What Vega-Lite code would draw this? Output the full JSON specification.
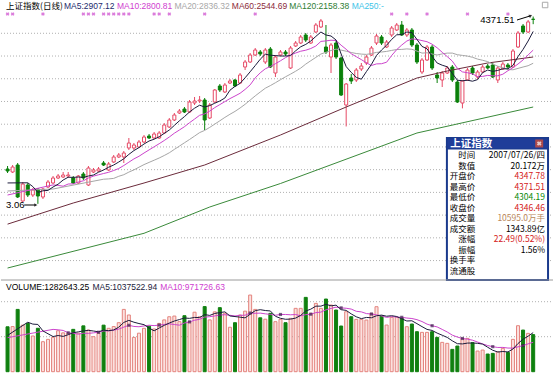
{
"$schema": "https://vega.github.io/schema/vega-lite/v6.json",
"padding": 0,
"background": "white",
"bounds": "flush",
"spacing": 0,
"config": {"view": {"stroke": null}},
"datasets": {
"k": [
{"i":0,"o":3029.8,"h":3056.2,"l":2994.6,"c":3012.2,"v":1282643},
{"i":1,"o":3003.4,"h":3065,"l":2994.6,"c":3047.4,"v":1290000},
{"i":2,"o":3065,"h":3082.6,"l":2774.6,"c":2783.4,"v":1780000},
{"i":3,"o":2748.2,"h":2915.4,"l":2739.4,"c":2897.8,"v":1330000},
{"i":4,"o":2889,"h":2906.6,"l":2783.4,"c":2801,"v":1380000},
{"i":5,"o":2801,"h":2862.6,"l":2783.4,"c":2845,"v":1020000},
{"i":6,"o":2853.8,"h":2862.6,"l":2723.06,"c":2792.2,"v":1240000},
{"i":7,"o":2783.4,"h":2862.6,"l":2765.8,"c":2853.8,"v":857000},
{"i":8,"o":2871.4,"h":2933,"l":2862.6,"c":2915.4,"v":924000},
{"i":9,"o":2906.6,"h":2968.2,"l":2897.8,"c":2950.6,"v":981000},
{"i":10,"o":2950.6,"h":2985.8,"l":2941.8,"c":2968.2,"v":1170000},
{"i":11,"o":2959.4,"h":3003.4,"l":2950.6,"c":2977,"v":1110000},
{"i":12,"o":2968.2,"h":3003.4,"l":2950.6,"c":2977,"v":1100000},
{"i":13,"o":2950.6,"h":2968.2,"l":2897.8,"c":2906.6,"v":1210000},
{"i":14,"o":2906.6,"h":2977,"l":2897.8,"c":2968.2,"v":1100000},
{"i":15,"o":2985.8,"h":3003.4,"l":2933,"c":2950.6,"v":1310000},
{"i":16,"o":2889,"h":3056.2,"l":2880.2,"c":3038.6,"v":1190000},
{"i":17,"o":3003.4,"h":3038.6,"l":2994.6,"c":3021,"v":1000000},
{"i":18,"o":3012.2,"h":3047.4,"l":3003.4,"c":3029.8,"v":1100000},
{"i":19,"o":3082.6,"h":3100.2,"l":3056.2,"c":3065,"v":1330000},
{"i":20,"o":3021,"h":3091.4,"l":3012.2,"c":3073.8,"v":1240000},
{"i":21,"o":3091.4,"h":3153,"l":3082.6,"c":3135.4,"v":1290000},
{"i":22,"o":3135.4,"h":3170.6,"l":3126.6,"c":3153,"v":1400000},
{"i":23,"o":3135.4,"h":3188.2,"l":3082.6,"c":3170.6,"v":1780000},
{"i":24,"o":3214.6,"h":3302.6,"l":3197,"c":3258.6,"v":1620000},
{"i":25,"o":3214.6,"h":3258.6,"l":3197,"c":3241,"v":980000},
{"i":26,"o":3223.4,"h":3285,"l":3214.6,"c":3267.4,"v":1100000},
{"i":27,"o":3267.4,"h":3329,"l":3258.6,"c":3311.4,"v":1240000},
{"i":28,"o":3320.2,"h":3337.8,"l":3293.8,"c":3302.6,"v":1300000},
{"i":29,"o":3302.6,"h":3355.4,"l":3293.8,"c":3337.8,"v":1220000},
{"i":30,"o":3302.6,"h":3364.2,"l":3293.8,"c":3346.6,"v":1380000},
{"i":31,"o":3346.6,"h":3434.6,"l":3337.8,"c":3417,"v":1480000},
{"i":32,"o":3399.4,"h":3478.6,"l":3390.6,"c":3461,"v":1570000},
{"i":33,"o":3461,"h":3522.6,"l":3452.2,"c":3505,"v":1590000},
{"i":34,"o":3522.6,"h":3557.8,"l":3513.8,"c":3540.2,"v":1430000},
{"i":35,"o":3557.8,"h":3575.4,"l":3522.6,"c":3531.4,"v":1600000},
{"i":36,"o":3531.4,"h":3637,"l":3522.6,"c":3619.4,"v":1430000},
{"i":37,"o":3610.6,"h":3663.4,"l":3593,"c":3628.2,"v":1700000},
{"i":38,"o":3628.2,"h":3672.2,"l":3610.6,"c":3637,"v":1570000},
{"i":39,"o":3637,"h":3654.6,"l":3373,"c":3461,"v":1860000},
{"i":40,"o":3478.6,"h":3610.6,"l":3469.8,"c":3593,"v":1480000},
{"i":41,"o":3619.4,"h":3733.8,"l":3610.6,"c":3725,"v":1710000},
{"i":42,"o":3760.2,"h":3777.8,"l":3707.4,"c":3725,"v":1830000},
{"i":43,"o":3707.4,"h":3786.6,"l":3698.6,"c":3769,"v":1670000},
{"i":44,"o":3786.6,"h":3821.8,"l":3777.8,"c":3804.2,"v":1270000},
{"i":45,"o":3813,"h":3821.8,"l":3751.4,"c":3760.2,"v":1400000},
{"i":46,"o":3786.6,"h":3874.6,"l":3777.8,"c":3857,"v":1620000},
{"i":47,"o":3927.4,"h":3989,"l":3901,"c":3971.4,"v":1730000},
{"i":48,"o":3971.4,"h":4050.6,"l":3962.6,"c":4033,"v":2190000},
{"i":49,"o":4033,"h":4094.6,"l":4024.2,"c":4077,"v":1780000},
{"i":50,"o":4059.4,"h":4077,"l":4024.2,"c":4041.8,"v":1540000},
{"i":51,"o":3971.4,"h":4094.6,"l":3953.8,"c":4077,"v":1500000},
{"i":52,"o":4085.8,"h":4103.4,"l":3918.6,"c":3927.4,"v":1667000},
{"i":53,"o":3874.6,"h":4033,"l":3839.4,"c":4015.4,"v":1429000},
{"i":54,"o":4033,"h":4077,"l":4024.2,"c":4059.4,"v":1495000},
{"i":55,"o":4059.4,"h":4077,"l":4024.2,"c":4041.8,"v":1400000},
{"i":56,"o":3918.6,"h":4112.2,"l":3909.8,"c":4094.6,"v":1524000},
{"i":57,"o":4112.2,"h":4156.2,"l":4103.4,"c":4138.6,"v":1810000},
{"i":58,"o":4138.6,"h":4209,"l":4129.8,"c":4191.4,"v":1810000},
{"i":59,"o":4209,"h":4226.6,"l":4147.4,"c":4165,"v":2124000},
{"i":60,"o":4138.6,"h":4209,"l":4129.8,"c":4191.4,"v":1667000},
{"i":61,"o":4235.4,"h":4314.6,"l":4226.6,"c":4297,"v":1952000},
{"i":62,"o":4279.4,"h":4349.8,"l":4270.6,"c":4332.2,"v":1810000},
{"i":63,"o":4103.4,"h":4297,"l":4041.8,"c":4059.4,"v":2076000},
{"i":64,"o":4015.4,"h":4138.6,"l":3874.6,"c":4121,"v":1905000},
{"i":65,"o":4138.6,"h":4156.2,"l":3997.8,"c":4015.4,"v":1762000},
{"i":66,"o":4006.6,"h":4015.4,"l":3672.2,"c":3681,"v":1305000},
{"i":67,"o":3593,"h":3786.6,"l":3404.15,"c":3777.8,"v":1714000},
{"i":68,"o":3830.6,"h":3865.8,"l":3777.8,"c":3804.2,"v":1571000},
{"i":69,"o":3813,"h":3918.6,"l":3795.4,"c":3901,"v":1495000},
{"i":70,"o":3909.8,"h":3962.6,"l":3892.2,"c":3936.2,"v":1495000},
{"i":71,"o":3962.6,"h":4033,"l":3945,"c":4015.4,"v":1476000},
{"i":72,"o":4033,"h":4112.2,"l":4024.2,"c":4094.6,"v":1667000},
{"i":73,"o":4138.6,"h":4217.8,"l":4121,"c":4200.2,"v":1857000},
{"i":74,"o":4191.4,"h":4209,"l":4121,"c":4138.6,"v":1590000},
{"i":75,"o":4103.4,"h":4165,"l":4094.6,"c":4147.4,"v":1333000},
{"i":76,"o":4209,"h":4288.2,"l":4191.4,"c":4270.6,"v":1552000},
{"i":77,"o":4253,"h":4314.6,"l":4244.2,"c":4297,"v":1552000},
{"i":78,"o":4297,"h":4332.2,"l":4200.2,"c":4209,"v":1524000},
{"i":79,"o":4209,"h":4270.6,"l":4191.4,"c":4253,"v":1286000},
{"i":80,"o":4253,"h":4270.6,"l":4103.4,"c":4121,"v":1362000},
{"i":81,"o":4121,"h":4138.6,"l":3953.8,"c":3971.4,"v":1143000},
{"i":82,"o":3883.4,"h":4006.6,"l":3865.8,"c":3989,"v":1124000},
{"i":83,"o":3989,"h":4121,"l":3980.2,"c":4103.4,"v":1124000},
{"i":84,"o":4103.4,"h":4121,"l":3901,"c":3918.6,"v":1143000},
{"i":85,"o":3857,"h":3883.4,"l":3786.6,"c":3830.6,"v":981000},
{"i":86,"o":3813,"h":3892.2,"l":3751.4,"c":3874.6,"v":838000},
{"i":87,"o":3874.6,"h":3936.2,"l":3865.8,"c":3918.6,"v":810000},
{"i":88,"o":3927.4,"h":3945,"l":3795.4,"c":3813,"v":638000},
{"i":89,"o":3795.4,"h":3813,"l":3610.6,"c":3619.4,"v":733000},
{"i":90,"o":3610.6,"h":3813,"l":3563.5,"c":3804.2,"v":952000},
{"i":91,"o":3813,"h":3918.6,"l":3804.2,"c":3901,"v":952000},
{"i":92,"o":3918.6,"h":3936.2,"l":3857,"c":3874.6,"v":829000},
{"i":93,"o":3839.4,"h":3901,"l":3821.8,"c":3883.4,"v":590000},
{"i":94,"o":3883.4,"h":3945,"l":3874.6,"c":3927.4,"v":619000},
{"i":95,"o":3936.2,"h":3953.8,"l":3909.8,"c":3918.6,"v":505000},
{"i":96,"o":3945,"h":3962.6,"l":3830.6,"c":3839.4,"v":524000},
{"i":97,"o":3813,"h":3936.2,"l":3786.6,"c":3918.6,"v":571000},
{"i":98,"o":3909.8,"h":3971.4,"l":3901,"c":3953.8,"v":667000},
{"i":99,"o":3945,"h":3962.6,"l":3909.8,"c":3927.4,"v":552000},
{"i":100,"o":3927.4,"h":4085.8,"l":3918.6,"c":4068.2,"v":924000},
{"i":101,"o":4103.4,"h":4244.2,"l":4094.6,"c":4226.6,"v":1314000},
{"i":102,"o":4288.2,"h":4305.8,"l":4217.8,"c":4235.4,"v":1190000},
{"i":103,"o":4235.4,"h":4341,"l":4226.6,"c":4323.97,"v":1095000},
{"i":104,"o":4347.78,"h":4371.51,"l":4304.19,"c":4346.46,"v":1059500}
],
"ma": [
{"i":0,"MA5":2907.12,"MA10":2800.81,"MA20":2836.32,"MA60":2544.69,"MA120":2158.38},
{"i":4,"MA5":2908.4},{"i":5,"MA5":2874.9},{"i":6,"MA5":2823.9},{"i":7,"MA5":2838},{"i":8,"MA5":2841.5},
{"i":9,"MA5":2871.4,"MA10":2889.9,"MA20":2853.8},
{"i":10,"MA5":2896,"MA10":2885.5},{"i":11,"MA5":2933,"MA10":2878.4},{"i":12,"MA5":2957.6,"MA10":2897.8},
{"i":13,"MA5":2955.9,"MA10":2898.7,"MA60":2730.6},{"i":14,"MA5":2959.4,"MA10":2915.4},{"i":15,"MA5":2955.9,"MA10":2926},
{"i":16,"MA5":2968.2,"MA10":2950.6},{"i":17,"MA5":2977,"MA10":2967.3},{"i":18,"MA5":3001.6,"MA10":2978.8},
{"i":19,"MA5":3021,"MA10":2990.2,"MA20":2940},{"i":20,"MA5":3045.6,"MA10":3000.8,"MA20":2942.7},
{"i":21,"MA5":3065,"MA10":3016.6,"MA20":2947.1},{"i":22,"MA5":3091.4,"MA10":3034.2,"MA20":2965.6},
{"i":23,"MA5":3119.6,"MA10":3060.6,"MA20":2979.6},{"i":24,"MA5":3158.3,"MA10":3089.6,"MA20":3002.5},
{"i":25,"MA5":3191.7,"MA10":3118.7,"MA20":3021.9},{"i":26,"MA5":3218.1,"MA10":3141.6,"MA20":3045.6},
{"i":27,"MA5":3249.8,"MA10":3170.6,"MA20":3068.5,"MA60":2906.6,"MA120":2464},
{"i":28,"MA5":3276.2,"MA10":3197.9,"MA20":3087.9},{"i":29,"MA5":3292,"MA10":3225.2,"MA20":3107.2},
{"i":30,"MA5":3313.2,"MA10":3252.4,"MA20":3126.6},{"i":31,"MA5":3343.1,"MA10":3280.6,"MA20":3148.6},
{"i":32,"MA5":3373,"MA10":3311.4,"MA20":3172.4},{"i":33,"MA5":3413.5,"MA10":3344.8,"MA20":3202.3},
{"i":34,"MA5":3454,"MA10":3373,"MA20":3231.3},{"i":35,"MA5":3490.9,"MA10":3402,"MA20":3260.4},
{"i":36,"MA5":3531.4,"MA10":3437.2,"MA20":3289.4},{"i":37,"MA5":3564.8,"MA10":3468.9,"MA20":3319.3},
{"i":38,"MA5":3591.2,"MA10":3502.4,"MA20":3350.1},{"i":39,"MA5":3575.4,"MA10":3514.7,"MA20":3369.5,"MA60":3065},
{"i":40,"MA5":3587.7,"MA10":3539.3,"MA20":3395.9,"MA120":2695.4},{"i":41,"MA5":3608.8,"MA10":3570.1,"MA20":3424.9},
{"i":42,"MA5":3628.2,"MA10":3596.5,"MA20":3454},{"i":43,"MA5":3654.6,"MA10":3622.9,"MA20":3483.9},
{"i":44,"MA5":3723.2,"MA10":3649.3,"MA20":3511.2},{"i":45,"MA5":3756.7,"MA10":3672.2,"MA20":3536.7},
{"i":46,"MA5":3783.1,"MA10":3696,"MA20":3566.6},{"i":47,"MA5":3832.4,"MA10":3730.3,"MA20":3599.2},
{"i":48,"MA5":3885.2,"MA10":3769.9,"MA20":3636.1},{"i":49,"MA5":3939.7,"MA10":3831.5,"MA20":3673.1},
{"i":50,"MA5":3996,"MA10":3876.4,"MA20":3707.4},{"i":51,"MA5":4040,"MA10":3911.6,"MA20":3740.8},
{"i":52,"MA5":4031.2,"MA10":3931.8,"MA20":3763.7},{"i":53,"MA5":4027.7,"MA10":3956.4,"MA20":3789.2},
{"i":54,"MA5":4024.2,"MA10":3982,"MA20":3815.6,"MA60":3329,"MA120":2902.2},
{"i":55,"MA5":4024.2,"MA10":4010.1,"MA20":3841.2},{"i":56,"MA5":4027.7,"MA10":4033.9,"MA20":3864.9},
{"i":57,"MA5":4070,"MA10":4050.6,"MA20":3890.4},{"i":58,"MA5":4105.2,"MA10":4066.4,"MA20":3917.7},
{"i":59,"MA5":4126.3,"MA10":4075.2,"MA20":3952.9},{"i":60,"MA5":4156.2,"MA10":4090.2,"MA20":3982.8},
{"i":61,"MA5":4196.7,"MA10":4112.2,"MA20":4011.9},{"i":62,"MA5":4235.4,"MA10":4152.7,"MA20":4041.8},
{"i":63,"MA5":4209,"MA10":4157.1,"MA20":4056.8},{"i":64,"MA5":4200.2,"MA10":4163.2,"MA20":4072.6},
{"i":65,"MA5":4165,"MA10":4160.6,"MA20":4084.9},{"i":66,"MA5":4041.8,"MA10":4119.2,"MA20":4076.1},
{"i":67,"MA5":3930.9,"MA10":4083.2,"MA20":4066.4,"MA60":3575.4},{"i":68,"MA5":3879.9,"MA10":4044.4,"MA20":4055},
{"i":69,"MA5":3835.9,"MA10":4018,"MA20":4046.2},{"i":70,"MA5":3820,"MA10":3992.5,"MA20":4040.9},
{"i":71,"MA5":3886.9,"MA10":3964.4,"MA20":4038.3},{"i":72,"MA5":3950.3,"MA10":3940.6,"MA20":4046.2},
{"i":73,"MA5":4029.5,"MA10":3954.7,"MA20":4055.9},{"i":74,"MA5":4077,"MA10":3956.4,"MA20":4059.4},
{"i":75,"MA5":4119.2,"MA10":3969.6,"MA20":4064.7},{"i":76,"MA5":4170.3,"MA10":4028.6,"MA20":4073.5},
{"i":77,"MA5":4210.8,"MA10":4080.5,"MA20":4081.4},{"i":78,"MA5":4212.5,"MA10":4121,"MA20":4082.3},
{"i":79,"MA5":4235.4,"MA10":4156.2,"MA20":4086.7},{"i":80,"MA5":4230.1,"MA10":4174.7,"MA20":4083.2},
{"i":81,"MA5":4170.3,"MA10":4170.3,"MA20":4067.3,"MA60":3830.6,"MA120":3346.6},
{"i":82,"MA5":4108.7,"MA10":4159.7,"MA20":4049.7},{"i":83,"MA5":4087.6,"MA10":4150,"MA20":4052.4},
{"i":84,"MA5":4020.7,"MA10":4128,"MA20":4041.8},{"i":85,"MA5":3962.6,"MA10":4096.4,"MA20":4033},
{"i":86,"MA5":3943.2,"MA10":4056.8,"MA20":4042.7},{"i":87,"MA5":3929.2,"MA10":4018.9,"MA20":4049.7,"MA60":3892.2},
{"i":88,"MA5":3871.1,"MA10":3979.3,"MA20":4049.7},{"i":89,"MA5":3811.2,"MA10":3916,"MA20":4035.6},
{"i":90,"MA5":3806,"MA10":3884.3,"MA20":4029.5},{"i":91,"MA5":3811.2,"MA10":3877.2,"MA20":4023.3},
{"i":92,"MA5":3802.4,"MA10":3865.8,"MA20":4012.8},{"i":93,"MA5":3816.5,"MA10":3843.8,"MA20":3996.9},
{"i":94,"MA5":3878.1,"MA10":3844.7,"MA20":3986.4},{"i":95,"MA5":3901,"MA10":3853.5,"MA20":3974.9,"MA60":3962.6},
{"i":96,"MA5":3888.7,"MA10":3850,"MA20":3952.9},{"i":97,"MA5":3897.5,"MA10":3850,"MA20":3934.4},
{"i":98,"MA5":3911.6,"MA10":3864,"MA20":3921.2},{"i":99,"MA5":3911.6,"MA10":3894.8,"MA20":3905.4},
{"i":100,"MA5":3941.5,"MA10":3921.2,"MA20":3902.8},{"i":101,"MA5":4018.9,"MA10":3953.8,"MA20":3915.1},
{"i":102,"MA5":4082.3,"MA10":3989.9,"MA20":3927.4},{"i":103,"MA5":4156.3,"MA10":4033.9,"MA20":3938.8},
{"i":104,"MA5":4240.1,"MA10":4075.9,"MA20":3960.3,"MA60":4015.4,"MA120":3575.4}
],
"vma": [
{"i":0,"m5":1037523,"m10":971727},{"i":4,"m5":1413000},{"i":5,"m5":1360000},{"i":6,"m5":1350000},{"i":7,"m5":1165000},{"i":8,"m5":1084000},
{"i":9,"m5":1004000,"m10":1209000},{"i":10,"m5":1034000,"m10":1197000},{"i":11,"m5":1008000,"m10":1179000},
{"i":12,"m5":1057000,"m10":1111000},{"i":13,"m5":1114000,"m10":1099000},{"i":14,"m5":1138000,"m10":1071000},
{"i":15,"m5":1166000,"m10":1100000},{"i":16,"m5":1182000,"m10":1095000},{"i":17,"m5":1162000,"m10":1110000},
{"i":18,"m5":1140000,"m10":1127000},{"i":19,"m5":1186000,"m10":1162000},{"i":20,"m5":1172000,"m10":1169000},
{"i":21,"m5":1192000,"m10":1187000},{"i":22,"m5":1272000,"m10":1217000},{"i":23,"m5":1408000,"m10":1274000},
{"i":24,"m5":1466000,"m10":1326000},{"i":25,"m5":1414000,"m10":1293000},{"i":26,"m5":1376000,"m10":1284000},
{"i":27,"m5":1344000,"m10":1308000},{"i":28,"m5":1248000,"m10":1328000},{"i":29,"m5":1168000,"m10":1317000},
{"i":30,"m5":1248000,"m10":1331000},{"i":31,"m5":1324000,"m10":1350000},{"i":32,"m5":1390000,"m10":1367000},
{"i":33,"m5":1448000,"m10":1348000},{"i":34,"m5":1490000,"m10":1329000},{"i":35,"m5":1534000,"m10":1391000},
{"i":36,"m5":1524000,"m10":1424000},{"i":37,"m5":1550000,"m10":1470000},{"i":38,"m5":1546000,"m10":1497000},
{"i":39,"m5":1632000,"m10":1561000},{"i":40,"m5":1608000,"m10":1571000},{"i":41,"m5":1664000,"m10":1594000},
{"i":42,"m5":1690000,"m10":1620000},{"i":43,"m5":1710000,"m10":1628000},{"i":44,"m5":1592000,"m10":1612000},
{"i":45,"m5":1576000,"m10":1592000},{"i":46,"m5":1558000,"m10":1611000},{"i":47,"m5":1538000,"m10":1614000},
{"i":48,"m5":1642000,"m10":1676000},{"i":49,"m5":1744000,"m10":1668000},{"i":50,"m5":1772000,"m10":1674000},
{"i":51,"m5":1748000,"m10":1653000},{"i":52,"m5":1735000,"m10":1637000},{"i":53,"m5":1583000,"m10":1613000},
{"i":54,"m5":1526000,"m10":1635000},{"i":55,"m5":1498000,"m10":1635000},{"i":56,"m5":1503000,"m10":1626000},
{"i":57,"m5":1532000,"m10":1634000},{"i":58,"m5":1608000,"m10":1596000},{"i":59,"m5":1734000,"m10":1630000},
{"i":60,"m5":1787000,"m10":1643000},{"i":61,"m5":1873000,"m10":1688000},{"i":62,"m5":1873000,"m10":1703000},
{"i":63,"m5":1926000,"m10":1767000},{"i":64,"m5":1882000,"m10":1808000},{"i":65,"m5":1901000,"m10":1844000},
{"i":66,"m5":1772000,"m10":1823000},{"i":67,"m5":1752000,"m10":1813000},{"i":68,"m5":1651000,"m10":1789000},
{"i":69,"m5":1569000,"m10":1726000},{"i":70,"m5":1516000,"m10":1709000},{"i":71,"m5":1550000,"m10":1661000},
{"i":72,"m5":1541000,"m10":1647000},{"i":73,"m5":1598000,"m10":1625000},{"i":74,"m5":1617000,"m10":1593000},
{"i":75,"m5":1585000,"m10":1551000},{"i":76,"m5":1600000,"m10":1575000},{"i":77,"m5":1577000,"m10":1559000},
{"i":78,"m5":1510000,"m10":1554000},{"i":79,"m5":1449000,"m10":1533000},{"i":80,"m5":1455000,"m10":1520000},
{"i":81,"m5":1373000,"m10":1487000},{"i":82,"m5":1288000,"m10":1433000},{"i":83,"m5":1208000,"m10":1359000},
{"i":84,"m5":1179000,"m10":1314000},{"i":85,"m5":1103000,"m10":1279000},{"i":86,"m5":1042000,"m10":1208000},
{"i":87,"m5":979000,"m10":1134000},{"i":88,"m5":882000,"m10":1045000},{"i":89,"m5":800000,"m10":990000},
{"i":90,"m5":794000,"m10":949000},{"i":91,"m5":817000,"m10":930000},{"i":92,"m5":821000,"m10":900000},
{"i":93,"m5":811000,"m10":847000},{"i":94,"m5":788000,"m10":794000},{"i":95,"m5":699000,"m10":747000},
{"i":96,"m5":613000,"m10":715000},{"i":97,"m5":562000,"m10":692000},{"i":98,"m5":577000,"m10":694000},
{"i":99,"m5":564000,"m10":676000},{"i":100,"m5":648000,"m10":674000},{"i":101,"m5":806000,"m10":710000},
{"i":102,"m5":929000,"m10":746000},{"i":103,"m5":1015000,"m10":796000},{"i":104,"m5":1117000,"m10":841000}
],
"grid": [{"g":4224},{"g":4024},{"g":3824},{"g":3624},{"g":3424},{"g":3224},{"g":3024},{"g":2824},{"g":2624},{"g":2424},{"g":2224}],
"vgrid": [{"g":1000000},{"g":2000000}],
"mine": [{"i":0},{"i":1},{"i":7},{"i":15},{"i":16},{"i":17},{"i":19},{"i":20},{"i":21},{"i":22},{"i":23},{"i":24},{"i":29},{"i":30},{"i":32},{"i":39},{"i":49},{"i":76},{"i":79},{"i":83},{"i":91},{"i":99}],
"info": [
{"r":1,"k":"时间","v":"2007/07/26/四"},
{"r":2,"k":"数值","v":"20.172万"},
{"r":3,"k":"开盘价","v":"4347.78"},
{"r":4,"k":"最高价","v":"4371.51"},
{"r":5,"k":"最低价","v":"4304.19"},
{"r":6,"k":"收盘价","v":"4346.46"},
{"r":7,"k":"成交量","v":"10595.0万手"},
{"r":8,"k":"成交额","v":"1343.89亿"},
{"r":9,"k":"涨幅","v":"22.49(0.52%)"},
{"r":10,"k":"振幅","v":"1.56%"},
{"r":11,"k":"换手率","v":""},
{"r":12,"k":"流通股","v":""}
],
"one": [{}]
},
"vconcat": [
{
"width": 553, "height": 280,
"layer": [
{"layer": [
{"data": {"name": "grid"}, "mark": {"type": "rule", "stroke": "#b0b0b0", "strokeDash": [1, 2], "strokeWidth": 1},
 "encoding": {"y": {"field": "g", "type": "quantitative", "scale": {"domain": [2053, 4517], "nice": false, "zero": false}, "axis": null}}},
{"data": {"name": "k"}, "mark": {"type": "rule", "strokeWidth": 1},
 "encoding": {"x": {"field": "i", "type": "quantitative", "scale": {"domain": [-0.309, 107.13], "nice": false, "zero": false}, "axis": null},
  "y": {"field": "l", "type": "quantitative", "scale": {"domain": [2053, 4517], "nice": false, "zero": false}, "axis": null},
  "y2": {"field": "h"},
  "color": {"condition": {"test": "datum.c >= datum.o", "value": "#e64a66"}, "value": "#0a800a"}}},
{"data": {"name": "k"}, "mark": {"type": "bar", "width": 3, "strokeWidth": 1},
 "encoding": {"x": {"field": "i", "type": "quantitative", "scale": {"domain": [-0.309, 107.13], "nice": false, "zero": false}, "axis": null},
  "y": {"field": "o", "type": "quantitative", "scale": {"domain": [2053, 4517], "nice": false, "zero": false}, "axis": null},
  "y2": {"field": "c"},
  "fill": {"condition": {"test": "datum.c >= datum.o", "value": "#ffffff"}, "value": "#0a800a"},
  "stroke": {"condition": {"test": "datum.c >= datum.o", "value": "#e64a66"}, "value": "#0a800a"}}},
{"data": {"name": "ma"}, "transform": [{"filter": {"field": "MA120", "valid": true}}], "mark": {"type": "line", "color": "#3a8a3a", "strokeWidth": 1},
 "encoding": {"x": {"field": "i", "type": "quantitative", "scale": {"domain": [-0.309, 107.13], "nice": false, "zero": false}, "axis": null},
  "y": {"field": "MA120", "type": "quantitative", "scale": {"domain": [2053, 4517], "nice": false, "zero": false}, "axis": null}}},
{"data": {"name": "ma"}, "transform": [{"filter": {"field": "MA60", "valid": true}}], "mark": {"type": "line", "color": "#6b2b3b", "strokeWidth": 1},
 "encoding": {"x": {"field": "i", "type": "quantitative", "scale": {"domain": [-0.309, 107.13], "nice": false, "zero": false}, "axis": null},
  "y": {"field": "MA60", "type": "quantitative", "scale": {"domain": [2053, 4517], "nice": false, "zero": false}, "axis": null}}},
{"data": {"name": "ma"}, "transform": [{"filter": {"field": "MA20", "valid": true}}], "mark": {"type": "line", "color": "#a6a6a6", "strokeWidth": 1},
 "encoding": {"x": {"field": "i", "type": "quantitative", "scale": {"domain": [-0.309, 107.13], "nice": false, "zero": false}, "axis": null},
  "y": {"field": "MA20", "type": "quantitative", "scale": {"domain": [2053, 4517], "nice": false, "zero": false}, "axis": null}}},
{"data": {"name": "ma"}, "transform": [{"filter": {"field": "MA10", "valid": true}}], "mark": {"type": "line", "color": "#cc44cc", "strokeWidth": 1},
 "encoding": {"x": {"field": "i", "type": "quantitative", "scale": {"domain": [-0.309, 107.13], "nice": false, "zero": false}, "axis": null},
  "y": {"field": "MA10", "type": "quantitative", "scale": {"domain": [2053, 4517], "nice": false, "zero": false}, "axis": null}}},
{"data": {"name": "ma"}, "transform": [{"filter": {"field": "MA5", "valid": true}}], "mark": {"type": "line", "color": "#1c1c3c", "strokeWidth": 1},
 "encoding": {"x": {"field": "i", "type": "quantitative", "scale": {"domain": [-0.309, 107.13], "nice": false, "zero": false}, "axis": null},
  "y": {"field": "MA5", "type": "quantitative", "scale": {"domain": [2053, 4517], "nice": false, "zero": false}, "axis": null}}},
{"data": {"name": "mine"}, "mark": {"type": "point", "shape": "cross", "angle": 45, "filled": true, "size": 14, "color": "#cc44cc"},
 "encoding": {"x": {"field": "i", "type": "quantitative", "scale": {"domain": [-0.309, 107.13], "nice": false, "zero": false}, "axis": null},
  "y": {"datum": 4394, "type": "quantitative", "scale": {"domain": [2053, 4517], "nice": false, "zero": false}, "axis": null}}},
{"data": {"name": "one"}, "mark": {"type": "text", "align": "left", "baseline": "middle", "font": "Noto Sans CJK SC", "fontSize": 8.5, "color": "#000000"},
 "encoding": {"x": {"datum": -0.3, "type": "quantitative"}, "y": {"datum": 4464, "type": "quantitative"}, "text": {"value": "上证指数(日线)"}}},
{"data": {"name": "one"}, "mark": {"type": "text", "align": "left", "baseline": "middle", "font": "Liberation Sans", "fontSize": 8.5, "color": "#1c2a6c"},
 "encoding": {"x": {"datum": 11.15, "type": "quantitative"}, "y": {"datum": 4464, "type": "quantitative"}, "text": {"value": "MA5:2907.12"}}},
{"data": {"name": "one"}, "mark": {"type": "text", "align": "left", "baseline": "middle", "font": "Liberation Sans", "fontSize": 8.5, "color": "#d040d0"},
 "encoding": {"x": {"datum": 21.65, "type": "quantitative"}, "y": {"datum": 4464, "type": "quantitative"}, "text": {"value": "MA10:2800.81"}}},
{"data": {"name": "one"}, "mark": {"type": "text", "align": "left", "baseline": "middle", "font": "Liberation Sans", "fontSize": 8.5, "color": "#a8a8a8"},
 "encoding": {"x": {"datum": 33.01, "type": "quantitative"}, "y": {"datum": 4464, "type": "quantitative"}, "text": {"value": "MA20:2836.32"}}},
{"data": {"name": "one"}, "mark": {"type": "text", "align": "left", "baseline": "middle", "font": "Liberation Sans", "fontSize": 8.5, "color": "#8b2a3a"},
 "encoding": {"x": {"datum": 44.38, "type": "quantitative"}, "y": {"datum": 4464, "type": "quantitative"}, "text": {"value": "MA60:2544.69"}}},
{"data": {"name": "one"}, "mark": {"type": "text", "align": "left", "baseline": "middle", "font": "Liberation Sans", "fontSize": 8.5, "color": "#2e7d32"},
 "encoding": {"x": {"datum": 55.74, "type": "quantitative"}, "y": {"datum": 4464, "type": "quantitative"}, "text": {"value": "MA120:2158.38"}}},
{"data": {"name": "one"}, "mark": {"type": "text", "align": "left", "baseline": "middle", "font": "Liberation Sans", "fontSize": 8.5, "color": "#40c4e8"},
 "encoding": {"x": {"datum": 68.08, "type": "quantitative"}, "y": {"datum": 4464, "type": "quantitative"}, "text": {"value": "MA250:-"}}},
{"data": {"name": "one"}, "mark": {"type": "point", "shape": "square", "filled": false, "size": 30, "stroke": "#888888", "strokeWidth": 1},
 "encoding": {"x": {"datum": 106.36, "type": "quantitative"}, "y": {"datum": 4473, "type": "quantitative"}}},
{"data": {"name": "one"}, "mark": {"type": "text", "align": "right", "baseline": "middle", "font": "Liberation Sans", "fontSize": 9.5, "color": "#000000"},
 "encoding": {"x": {"datum": 100.33, "type": "quantitative"}, "y": {"datum": 4341, "type": "quantitative"}, "text": {"value": "4371.51"}}},
{"data": {"name": "one"}, "mark": {"type": "rule", "color": "#000000", "strokeWidth": 1},
 "encoding": {"x": {"datum": 100.8, "type": "quantitative"}, "x2": {"datum": 103.5}, "y": {"datum": 4341, "type": "quantitative"}, "y2": {"datum": 4378}}},
{"data": {"name": "one"}, "mark": {"type": "point", "shape": "triangle-right", "angle": -25, "filled": true, "size": 14, "color": "#000000"},
 "encoding": {"x": {"datum": 103.5, "type": "quantitative"}, "y": {"datum": 4378, "type": "quantitative"}}},
{"data": {"name": "one"}, "mark": {"type": "text", "align": "left", "baseline": "middle", "font": "Liberation Sans", "fontSize": 9.5, "color": "#000000"},
 "encoding": {"x": {"datum": -0.3, "type": "quantitative"}, "y": {"datum": 2713, "type": "quantitative"}, "text": {"value": "3.06"}}},
{"data": {"name": "one"}, "mark": {"type": "rule", "color": "#000000", "strokeWidth": 1},
 "encoding": {"x": {"datum": 3.3, "type": "quantitative"}, "x2": {"datum": 5.6}, "y": {"datum": 2713, "type": "quantitative"}}},
{"data": {"name": "one"}, "mark": {"type": "point", "shape": "triangle-right", "filled": true, "size": 14, "color": "#000000"},
 "encoding": {"x": {"datum": 5.6, "type": "quantitative"}, "y": {"datum": 2713, "type": "quantitative"}}},
{"data": {"name": "one"}, "mark": {"type": "rect", "fill": "#ffffff", "stroke": "#1a3a8c", "strokeWidth": 2},
 "encoding": {"x": {"datum": 86.93, "type": "quantitative"}, "x2": {"datum": 106.94}, "y": {"datum": 3302.6, "type": "quantitative"}, "y2": {"datum": 2053}}},
{"data": {"name": "one"}, "mark": {"type": "rect", "fill": "#1f3d99", "stroke": "#1a3a8c", "strokeWidth": 1},
 "encoding": {"x": {"datum": 86.93, "type": "quantitative"}, "x2": {"datum": 106.94}, "y": {"datum": 3302.6, "type": "quantitative"}, "y2": {"datum": 3205.8}}},
{"data": {"name": "one"}, "mark": {"type": "text", "align": "left", "baseline": "middle", "font": "Noto Sans CJK SC", "fontSize": 10.5, "fontWeight": "bold", "color": "#ffffff"},
 "encoding": {"x": {"datum": 87.6, "type": "quantitative"}, "y": {"datum": 3254.2, "type": "quantitative"}, "text": {"value": "上证指数"}}},
{"data": {"name": "one"}, "mark": {"type": "point", "shape": "square", "filled": true, "size": 64, "color": "#e8502a"},
 "encoding": {"x": {"datum": 105.19, "type": "quantitative"}, "y": {"datum": 3254.2, "type": "quantitative"}}},
{"data": {"name": "one"}, "mark": {"type": "point", "shape": "cross", "angle": 45, "filled": true, "size": 22, "color": "#ffffff"},
 "encoding": {"x": {"datum": 105.19, "type": "quantitative"}, "y": {"datum": 3254.2, "type": "quantitative"}}}
]},
{"data": {"name": "info"}, "layer": [
{"mark": {"type": "text", "align": "right", "baseline": "middle", "font": "Noto Sans CJK SC", "fontSize": 8.5, "color": "#000000"},
 "encoding": {"x": {"datum": 92.56, "type": "quantitative"},
  "y": {"field": "r", "type": "quantitative", "scale": {"domain": [-13.699, 12.854], "reverse": true, "nice": false, "zero": false}, "axis": null},
  "text": {"field": "k"}}},
{"mark": {"type": "text", "align": "right", "baseline": "middle", "font": "Noto Sans CJK SC", "fontSize": 8.5},
 "encoding": {"x": {"datum": 106.35, "type": "quantitative"},
  "y": {"field": "r", "type": "quantitative", "scale": {"domain": [-13.699, 12.854], "reverse": true, "nice": false, "zero": false}, "axis": null},
  "text": {"field": "v"},
  "color": {"field": "k", "type": "nominal", "legend": null,
   "scale": {"domain": ["时间","数值","开盘价","最高价","最低价","收盘价","成交量","成交额","涨幅","振幅","换手率","流通股"],
    "range": ["#000000","#000000","#d42020","#d42020","#0a8a0a","#d42020","#b8865a","#000000","#d42020","#000000","#000000","#000000"]}}}}
]}
],
"resolve": {"scale": {"y": "independent"}}
},
{
"width": 553, "height": 95,
"layer": [
{"data": {"name": "vgrid"}, "mark": {"type": "rule", "stroke": "#b0b0b0", "strokeDash": [1, 2], "strokeWidth": 1},
 "encoding": {"y": {"field": "g", "type": "quantitative", "scale": {"domain": [-94300, 2620000], "nice": false, "zero": false}, "axis": null}}},
{"data": {"name": "one"}, "mark": {"type": "rule", "stroke": "#9a9a9a", "strokeWidth": 1},
 "encoding": {"y": {"datum": 2620000, "type": "quantitative", "scale": {"domain": [-94300, 2620000], "nice": false, "zero": false}, "axis": null}}},
{"data": {"name": "k"}, "mark": {"type": "bar", "width": 3, "strokeWidth": 1},
 "encoding": {"x": {"field": "i", "type": "quantitative", "scale": {"domain": [-0.309, 107.13], "nice": false, "zero": false}, "axis": null},
  "y": {"field": "v", "type": "quantitative", "scale": {"domain": [-94300, 2620000], "nice": false, "zero": false}, "axis": null},
  "y2": {"datum": 0},
  "fill": {"condition": {"test": "datum.c >= datum.o", "value": "#fbe1df"}, "value": "#0f800f"},
  "stroke": {"condition": {"test": "datum.c >= datum.o", "value": "#e4847e"}, "value": "#0f800f"}}},
{"data": {"name": "vma"}, "transform": [{"filter": {"field": "m10", "valid": true}}], "mark": {"type": "line", "color": "#cc44cc", "strokeWidth": 1},
 "encoding": {"x": {"field": "i", "type": "quantitative", "scale": {"domain": [-0.309, 107.13], "nice": false, "zero": false}, "axis": null},
  "y": {"field": "m10", "type": "quantitative", "scale": {"domain": [-94300, 2620000], "nice": false, "zero": false}, "axis": null}}},
{"data": {"name": "vma"}, "transform": [{"filter": {"field": "m5", "valid": true}}], "mark": {"type": "line", "color": "#1c1c3c", "strokeWidth": 1},
 "encoding": {"x": {"field": "i", "type": "quantitative", "scale": {"domain": [-0.309, 107.13], "nice": false, "zero": false}, "axis": null},
  "y": {"field": "m5", "type": "quantitative", "scale": {"domain": [-94300, 2620000], "nice": false, "zero": false}, "axis": null}}},
{"data": {"name": "vma"}, "transform": [{"filter": "isValid(datum.m10) && datum.i > 0 && datum.i % 6 == 0"}], "mark": {"type": "point", "shape": "square", "filled": true, "size": 10, "color": "#3c1c4c"},
 "encoding": {"x": {"field": "i", "type": "quantitative", "scale": {"domain": [-0.309, 107.13], "nice": false, "zero": false}, "axis": null},
  "y": {"field": "m10", "type": "quantitative", "scale": {"domain": [-94300, 2620000], "nice": false, "zero": false}, "axis": null}}},
{"data": {"name": "one"}, "mark": {"type": "text", "align": "left", "baseline": "middle", "font": "Liberation Sans", "fontSize": 8.5, "color": "#000000"},
 "encoding": {"x": {"datum": -0.3, "type": "quantitative"}, "y": {"datum": 2420000, "type": "quantitative"}, "text": {"value": "VOLUME:1282643.25"}}},
{"data": {"name": "one"}, "mark": {"type": "text", "align": "left", "baseline": "middle", "font": "Liberation Sans", "fontSize": 8.5, "color": "#1c1c3c"},
 "encoding": {"x": {"datum": 16.79, "type": "quantitative"}, "y": {"datum": 2420000, "type": "quantitative"}, "text": {"value": "MA5:1037522.94"}}},
{"data": {"name": "one"}, "mark": {"type": "text", "align": "left", "baseline": "middle", "font": "Liberation Sans", "fontSize": 8.5, "color": "#d040d0"},
 "encoding": {"x": {"datum": 30.19, "type": "quantitative"}, "y": {"datum": 2420000, "type": "quantitative"}, "text": {"value": "MA10:971726.63"}}}
]
}
]
}
